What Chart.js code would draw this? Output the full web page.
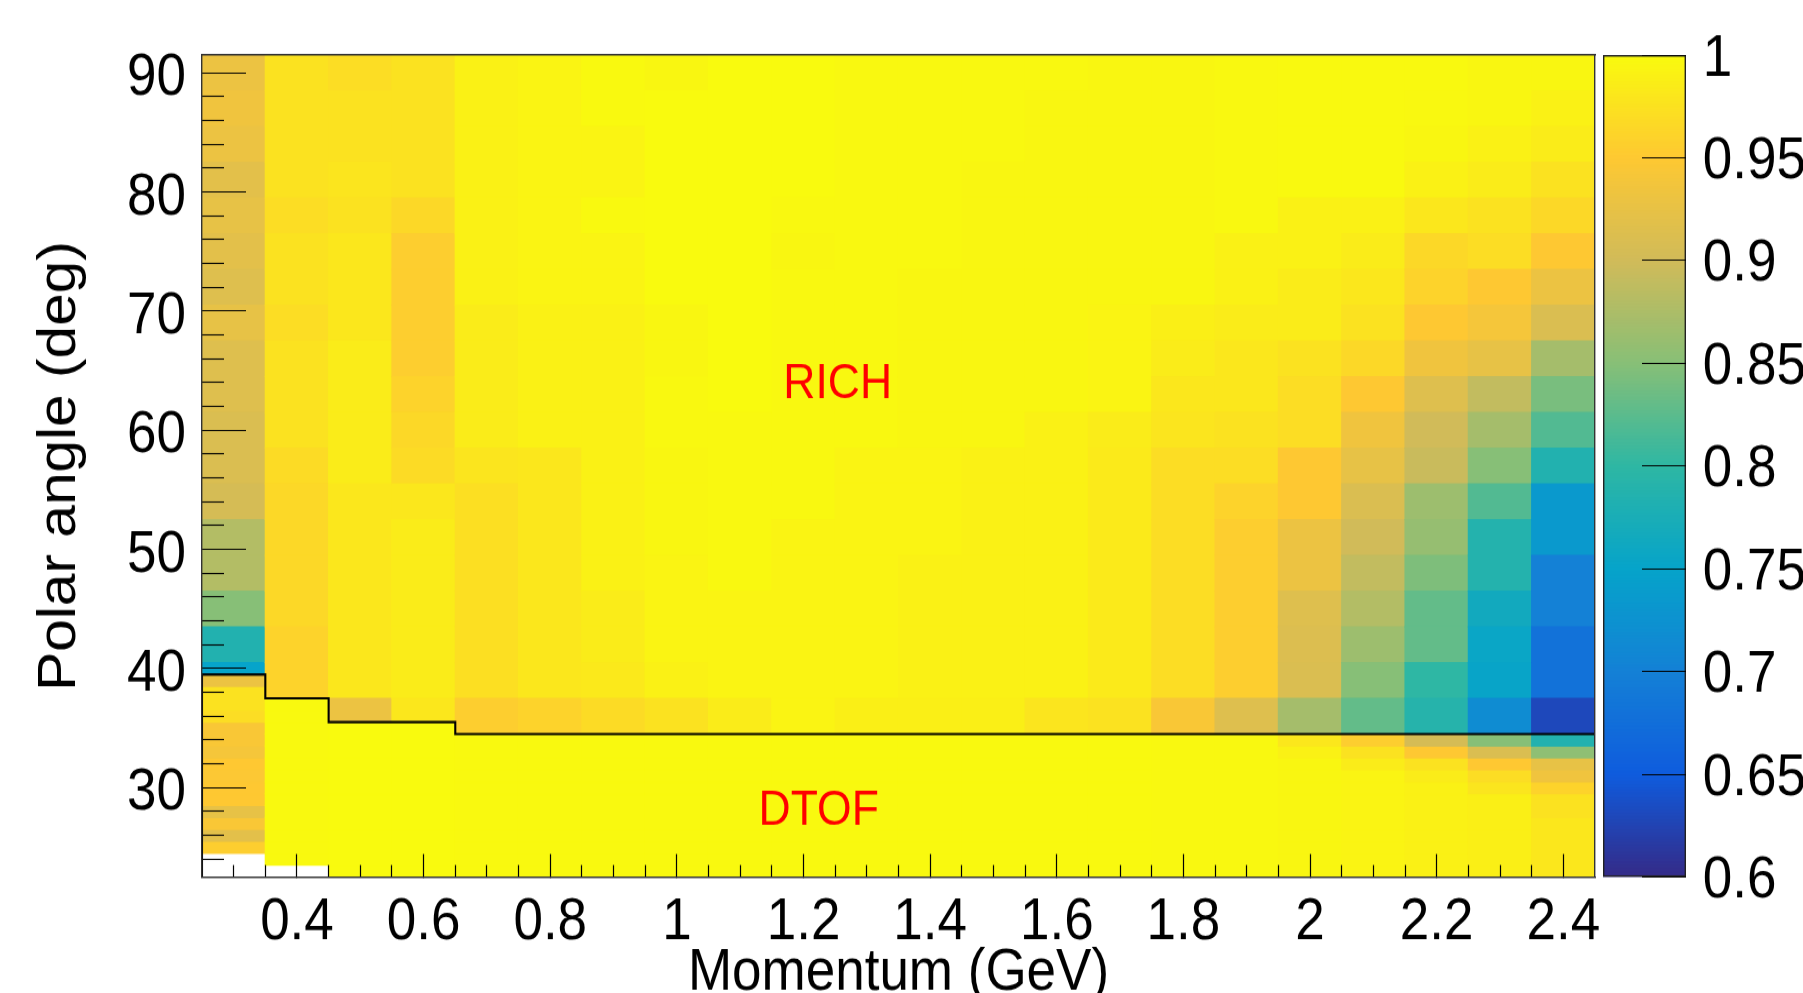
<!DOCTYPE html>
<html>
<head>
<meta charset="utf-8">
<script src="https://cdn.jsdelivr.net/npm/chart.js@4.4.1/dist/chart.umd.min.js"></script>
<style>
html, body { margin: 0; padding: 0; background: #ffffff; overflow: hidden; }
#wrap { position: relative; width: 1803px; height: 993px; }
#main { position: absolute; left: 0; top: 0; width: 1803px; height: 993px; }
#cbar { position: absolute; left: 1595px; top: 0; width: 208px; height: 993px; }
</style>
</head>
<body>
<div id="wrap">
  <canvas id="main" width="1803" height="903" style="width:1803px;height:993px"></canvas>
  <canvas id="cbar" width="208" height="903" style="width:208px;height:993px"></canvas>
</div>
<script>
// ---------------- data ----------------
// momentum bin centres (GeV) and bin edges
const momentum = [0.3, 0.4, 0.5, 0.6, 0.7, 0.8, 0.9, 1.0, 1.1, 1.2, 1.3, 1.4, 1.5, 1.6, 1.7, 1.8, 1.9, 2.0, 2.1, 2.2, 2.3, 2.4];
const momentumEdges = [0.25, 0.35, 0.45, 0.55, 0.65, 0.75, 0.85, 0.95, 1.05, 1.15, 1.25, 1.35, 1.45, 1.55, 1.65, 1.75, 1.85, 1.95, 2.05, 2.15, 2.25, 2.35, 2.45];

// RICH polar-angle bin edges (deg), top to bottom
const richAngleEdges = [91.5, 88.5, 85.5, 82.5, 79.5, 76.5, 73.5, 70.5, 67.5, 64.5, 61.5, 58.5, 55.5, 52.5, 49.5, 46.5, 43.5, 40.5, 37.5, 34.5];
// DTOF polar-angle bin edges (deg), bottom to top
const dtofAngleEdges = [22.5, 23.5, 24.5, 25.5, 26.5, 27.5, 28.5, 29.5, 30.5, 31.5, 32.5, 33.5, 34.5, 35.5, 36.5, 37.5, 38.5, 39.5];

// RICH / DTOF boundary angle for each momentum bin (deg)
const boundary = [39.5, 37.5, 35.5, 35.5, 34.5, 34.5, 34.5, 34.5, 34.5, 34.5, 34.5, 34.5, 34.5, 34.5, 34.5, 34.5, 34.5, 34.5, 34.5, 34.5, 34.5, 34.5];

// RICH efficiency: one array per momentum bin, rows from 88.5-91.5 down to 34.5-37.5
const richEff = [
  [0.93, 0.935, 0.93, 0.92, 0.925, 0.92, 0.915, 0.925, 0.915, 0.915, 0.91, 0.91, 0.905, 0.88, 0.88, 0.85, 0.785, 0.75, null],
  [0.975, 0.975, 0.975, 0.975, 0.97, 0.975, 0.975, 0.97, 0.975, 0.975, 0.975, 0.968, 0.965, 0.965, 0.965, 0.965, 0.96, 0.96, null],
  [0.97, 0.975, 0.975, 0.978, 0.975, 0.98, 0.98, 0.98, 0.985, 0.985, 0.985, 0.985, 0.98, 0.98, 0.98, 0.98, 0.98, 0.98, 0.93],
  [0.975, 0.975, 0.975, 0.975, 0.965, 0.955, 0.955, 0.955, 0.955, 0.96, 0.965, 0.968, 0.98, 0.985, 0.985, 0.985, 0.985, 0.985, 0.98],
  [0.99, 0.99, 0.99, 0.99, 0.99, 0.99, 0.99, 0.985, 0.985, 0.985, 0.985, 0.978, 0.972, 0.972, 0.972, 0.972, 0.972, 0.972, 0.955],
  [0.993, 0.993, 0.993, 0.993, 0.993, 0.993, 0.993, 0.99, 0.99, 0.99, 0.99, 0.98, 0.98, 0.98, 0.98, 0.98, 0.98, 0.98, 0.96],
  [0.998, 0.998, 0.993, 0.993, 0.998, 0.993, 0.993, 0.99, 0.99, 0.99, 0.99, 0.99, 0.99, 0.99, 0.99, 0.985, 0.985, 0.982, 0.968],
  [0.995, 0.999, 0.999, 0.999, 0.999, 0.999, 0.999, 0.995, 0.995, 0.997, 0.997, 0.995, 0.995, 0.995, 0.993, 0.993, 0.993, 0.99, 0.975],
  [0.999, 0.999, 0.999, 0.999, 0.999, 0.999, 0.999, 0.999, 0.999, 0.999, 0.997, 0.997, 0.997, 0.997, 0.997, 0.993, 0.993, 0.993, 0.985],
  [0.999, 0.999, 0.999, 0.999, 0.997, 0.995, 0.997, 0.997, 0.997, 0.997, 0.997, 0.997, 0.997, 0.993, 0.993, 0.993, 0.993, 0.993, 0.993],
  [0.997, 0.997, 0.997, 0.997, 0.997, 0.997, 0.997, 0.997, 0.997, 0.997, 0.997, 0.993, 0.993, 0.993, 0.993, 0.993, 0.993, 0.993, 0.988],
  [0.997, 0.997, 0.997, 0.997, 0.997, 0.997, 0.995, 0.995, 0.995, 0.995, 0.995, 0.993, 0.993, 0.993, 0.99, 0.99, 0.99, 0.99, 0.988],
  [0.997, 0.997, 0.997, 0.995, 0.995, 0.995, 0.995, 0.995, 0.995, 0.995, 0.995, 0.99, 0.99, 0.99, 0.99, 0.99, 0.99, 0.99, 0.988],
  [0.997, 0.995, 0.995, 0.995, 0.995, 0.995, 0.995, 0.995, 0.995, 0.995, 0.99, 0.99, 0.99, 0.99, 0.99, 0.99, 0.99, 0.99, 0.978],
  [0.995, 0.995, 0.995, 0.995, 0.995, 0.995, 0.995, 0.993, 0.993, 0.993, 0.985, 0.983, 0.983, 0.983, 0.983, 0.983, 0.983, 0.983, 0.975],
  [0.995, 0.995, 0.995, 0.995, 0.995, 0.995, 0.995, 0.988, 0.985, 0.98, 0.978, 0.97, 0.97, 0.97, 0.97, 0.97, 0.97, 0.97, 0.945],
  [0.997, 0.997, 0.997, 0.997, 0.997, 0.99, 0.99, 0.985, 0.98, 0.98, 0.975, 0.97, 0.96, 0.955, 0.955, 0.955, 0.955, 0.955, 0.915],
  [0.998, 0.998, 0.998, 0.998, 0.99, 0.99, 0.985, 0.985, 0.975, 0.97, 0.97, 0.95, 0.95, 0.93, 0.93, 0.915, 0.912, 0.91, 0.87],
  [0.998, 0.998, 0.998, 0.998, 0.99, 0.985, 0.98, 0.975, 0.965, 0.95, 0.935, 0.925, 0.91, 0.9, 0.89, 0.88, 0.865, 0.85, 0.83],
  [0.998, 0.997, 0.995, 0.99, 0.98, 0.965, 0.96, 0.95, 0.935, 0.915, 0.9, 0.895, 0.865, 0.86, 0.845, 0.83, 0.83, 0.8, 0.79],
  [0.995, 0.995, 0.99, 0.985, 0.975, 0.97, 0.95, 0.94, 0.925, 0.89, 0.87, 0.85, 0.82, 0.788, 0.788, 0.765, 0.755, 0.752, 0.716],
  [0.995, 0.99, 0.985, 0.975, 0.965, 0.95, 0.93, 0.91, 0.87, 0.842, 0.82, 0.785, 0.735, 0.735, 0.70, 0.70, 0.68, 0.68, 0.63]
];

// DTOF efficiency: one array per momentum bin, rows from 22.5-23.5 up to 38.5-39.5
const dtofEff = [
  [null, null, 0.955, 0.92, 0.945, 0.925, 0.95, 0.95, 0.948, 0.95, 0.94, 0.945, 0.945, 0.97, 0.975, 0.975, 0.93],
  [null, 0.998, 0.998, 0.998, 0.998, 0.998, 0.998, 0.998, 0.998, 0.998, 0.998, 0.998, 0.998, 0.998, 0.998, null, null],
  [0.999, 0.999, 0.999, 0.999, 0.999, 0.999, 0.999, 0.999, 0.999, 0.999, 0.999, 0.999, 0.999, null, null, null, null],
  [0.999, 0.999, 0.999, 0.999, 0.999, 0.999, 0.999, 0.999, 0.999, 0.999, 0.999, 0.999, 0.999, null, null, null, null],
  [0.998, 0.998, 0.998, 0.998, 0.998, 0.998, 0.998, 0.998, 0.998, 0.998, 0.998, 0.998, null, null, null, null, null],
  [0.998, 0.998, 0.998, 0.998, 0.998, 0.998, 0.998, 0.998, 0.998, 0.998, 0.998, 0.998, null, null, null, null, null],
  [0.998, 0.998, 0.998, 0.998, 0.998, 0.998, 0.998, 0.998, 0.998, 0.998, 0.998, 0.998, null, null, null, null, null],
  [0.998, 0.998, 0.998, 0.998, 0.998, 0.998, 0.998, 0.998, 0.998, 0.998, 0.998, 0.998, null, null, null, null, null],
  [0.998, 0.998, 0.998, 0.998, 0.998, 0.998, 0.998, 0.998, 0.998, 0.998, 0.998, 0.998, null, null, null, null, null],
  [0.998, 0.998, 0.998, 0.998, 0.998, 0.998, 0.998, 0.998, 0.998, 0.998, 0.998, 0.998, null, null, null, null, null],
  [0.998, 0.998, 0.998, 0.998, 0.998, 0.998, 0.998, 0.998, 0.998, 0.998, 0.998, 0.998, null, null, null, null, null],
  [0.998, 0.998, 0.998, 0.998, 0.998, 0.998, 0.998, 0.998, 0.998, 0.998, 0.998, 0.998, null, null, null, null, null],
  [0.998, 0.998, 0.998, 0.998, 0.998, 0.998, 0.998, 0.998, 0.998, 0.998, 0.998, 0.998, null, null, null, null, null],
  [0.998, 0.998, 0.998, 0.998, 0.998, 0.998, 0.998, 0.998, 0.998, 0.998, 0.998, 0.998, null, null, null, null, null],
  [0.998, 0.998, 0.998, 0.998, 0.998, 0.998, 0.998, 0.998, 0.998, 0.998, 0.998, 0.998, null, null, null, null, null],
  [0.997, 0.997, 0.997, 0.997, 0.997, 0.997, 0.997, 0.997, 0.997, 0.997, 0.997, 0.997, null, null, null, null, null],
  [0.997, 0.997, 0.997, 0.997, 0.997, 0.997, 0.997, 0.997, 0.997, 0.997, 0.997, 0.997, null, null, null, null, null],
  [0.995, 0.995, 0.995, 0.995, 0.995, 0.995, 0.995, 0.995, 0.995, 0.995, 0.99, 0.98, null, null, null, null, null],
  [0.993, 0.993, 0.993, 0.993, 0.993, 0.993, 0.993, 0.993, 0.993, 0.985, 0.975, 0.955, null, null, null, null, null],
  [0.99, 0.99, 0.99, 0.99, 0.99, 0.99, 0.99, 0.99, 0.985, 0.975, 0.95, 0.905, null, null, null, null, null],
  [0.988, 0.988, 0.988, 0.988, 0.988, 0.988, 0.988, 0.978, 0.97, 0.95, 0.91, 0.85, null, null, null, null, null],
  [0.98, 0.98, 0.98, 0.98, 0.98, 0.975, 0.975, 0.96, 0.935, 0.925, 0.855, 0.785, null, null, null, null, null]
];

// tick values and labels
const xTickValues = [0.4, 0.6, 0.8, 1.0, 1.2, 1.4, 1.6, 1.8, 2.0, 2.2, 2.4];
const xTickLabels = ['0.4', '0.6', '0.8', '1', '1.2', '1.4', '1.6', '1.8', '2', '2.2', '2.4'];
const yTickValues = [30, 40, 50, 60, 70, 80, 90];
const yTickLabels = ['30', '40', '50', '60', '70', '80', '90'];
const zTickValues = [0.6, 0.65, 0.7, 0.75, 0.8, 0.85, 0.9, 0.95, 1.0];
const zTickLabels = ['0.6', '0.65', '0.7', '0.75', '0.8', '0.85', '0.9', '0.95', '1'];

// region labels (text, data coordinates)
const regionLabels = [
  { text: 'RICH', x: 1.254, y: 63.8 },
  { text: 'DTOF', x: 1.224, y: 28.05 }
];

// ---------------- configuration ----------------
const X_MIN = 0.25, X_MAX = 2.45, Y_MIN = 22.5, Y_MAX = 91.5, Z_MIN = 0.6, Z_MAX = 1.0;
const FONT = "'Liberation Sans', Arial, Helvetica, sans-serif";
const tickFont = { family: FONT, size: 53, lineHeight: 1 };

// ROOT kBird palette
const birdStops = [0.0, 0.125, 0.25, 0.375, 0.5, 0.625, 0.75, 0.875, 1.0];
const birdR = [0.2082, 0.0592, 0.0780, 0.0232, 0.1802, 0.5301, 0.8186, 0.9956, 0.9764];
const birdG = [0.1664, 0.3599, 0.5041, 0.6419, 0.7178, 0.7492, 0.7328, 0.7862, 0.9832];
const birdB = [0.5293, 0.8684, 0.8385, 0.7914, 0.6425, 0.4662, 0.3499, 0.1968, 0.0539];
function bird(v) {
  let t = (v - Z_MIN) / (Z_MAX - Z_MIN);
  t = Math.min(1, Math.max(0, t));
  let i = 0;
  while (i < birdStops.length - 2 && t > birdStops[i + 1]) i++;
  const f = (t - birdStops[i]) / (birdStops[i + 1] - birdStops[i]);
  const c = k => Math.round(255 * (k[i] + f * (k[i + 1] - k[i])));
  return 'rgb(' + c(birdR) + ',' + c(birdG) + ',' + c(birdB) + ')';
}

// cells built from the arrays
const richCells = [];
const dtofCells = [];
momentum.forEach((p, c) => {
  richEff[c].forEach((v, r) => {
    if (v === null) return;
    const hi = richAngleEdges[r];
    const lo = Math.max(richAngleEdges[r + 1], boundary[c]);
    if (lo >= hi) return;
    richCells.push({ x: p, y: [lo, hi], v: v });
  });
  dtofEff[c].forEach((v, r) => {
    if (v === null) return;
    const lo = dtofAngleEdges[r];
    const hi = Math.min(dtofAngleEdges[r + 1], boundary[c]);
    if (lo >= hi) return;
    dtofCells.push({ x: p, y: [lo, hi], v: v });
  });
});

// boundary step line
const boundaryLine = [{ x: momentumEdges[0], y: Y_MIN }];
boundary.forEach((b, c) => boundaryLine.push({ x: momentumEdges[c], y: b }));
boundaryLine.push({ x: momentumEdges[momentumEdges.length - 1], y: boundary[boundary.length - 1] });

// minor tick positions (axis decoration)
const xMinorTicks = [];
for (let k = 6; k <= 48; k++) { if (k % 4 !== 0) xMinorTicks.push(Math.round(k * 5) / 100); }
const yMinorTicks = [];
for (let a = 24; a <= 90; a += 2) { if (a % 10 !== 0) yMinorTicks.push(a); }

const cellStyle = {
  backgroundColor: ctx => (ctx.raw && ctx.raw.v !== undefined) ? bird(ctx.raw.v) : '#000',
  borderWidth: 0,
  barPercentage: 1,
  categoryPercentage: 1,
  grouped: false,
  inflateAmount: 0.6
};

const labelPlugin = {
  id: 'regionLabels',
  afterDatasetsDraw(chart) {
    const { ctx } = chart;
    const xs = chart.scales.x, ys = chart.scales.y;
    ctx.save();
    ctx.font = '44.5px ' + FONT;
    ctx.fillStyle = '#ff0000';
    ctx.textAlign = 'center';
    ctx.textBaseline = 'middle';
    regionLabels.forEach(l => ctx.fillText(l.text, xs.getPixelForValue(l.x), ys.getPixelForValue(l.y)));
    ctx.restore();
  }
};

const frameBorder = { display: true, color: '#333333', width: 1.4, z: 1 };

new Chart(document.getElementById('main'), {
  type: 'bar',
  data: {
    datasets: [
      { type: 'line', label: 'boundary', data: boundaryLine, xAxisID: 'x', yAxisID: 'y',
        borderColor: '#000000', borderWidth: 2.1, pointRadius: 0, stepped: 'before', fill: false, tension: 0, order: 0 },
      Object.assign({ label: 'RICH', data: richCells, xAxisID: 'x', yAxisID: 'y', order: 1 }, cellStyle),
      Object.assign({ label: 'DTOF', data: dtofCells, xAxisID: 'x', yAxisID: 'y', order: 2 }, cellStyle)
    ]
  },
  options: {
    responsive: false,
    animation: false,
    devicePixelRatio: 1,
    events: [],
    layout: { padding: { left: 0, top: 50, right: 208, bottom: 0 } },
    plugins: { legend: { display: false }, tooltip: { enabled: false }, title: { display: false } },
    scales: {
      xMinor: {
        type: 'linear', axis: 'x', position: 'bottom', weight: 0, min: X_MIN, max: X_MAX, offset: false,
        afterBuildTicks: s => { s.ticks = xMinorTicks.map(v => ({ value: v })); },
        afterFit: s => { s.height = 0; s.paddingLeft = 0; s.paddingRight = 0; },
        ticks: { display: false },
        grid: { display: true, drawOnChartArea: false, drawTicks: true, tickLength: -10.9, tickWidth: 1.2, tickColor: '#000000', offset: false, z: 1 },
        border: { display: false }
      },
      yMinor: {
        type: 'linear', axis: 'y', position: 'left', weight: 0, min: Y_MIN, max: Y_MAX,
        afterBuildTicks: s => { s.ticks = yMinorTicks.map(v => ({ value: v })); },
        afterFit: s => { s.width = 0; s.paddingTop = 0; s.paddingBottom = 0; },
        ticks: { display: false },
        grid: { display: true, drawOnChartArea: false, drawTicks: true, tickLength: -22, tickWidth: 1.1, tickColor: '#000000', z: 1 },
        border: { display: false }
      },
      x: {
        type: 'linear', axis: 'x', position: 'bottom', weight: 1, min: X_MIN, max: X_MAX, offset: false,
        afterBuildTicks: s => { s.ticks = xTickValues.map(v => ({ value: v })); },
        afterFit: s => { s.height = 105.5; s.paddingLeft = 0; s.paddingRight = 0; },
        ticks: {
          font: tickFont, color: '#000000', padding: 36, maxRotation: 0, minRotation: 0, autoSkip: false,
          callback: v => xTickLabels[xTickValues.indexOf(v)]
        },
        grid: { display: true, drawOnChartArea: false, drawTicks: true, tickLength: -20.9, tickWidth: 1.2, tickColor: '#000000', offset: false, z: 1 },
        border: frameBorder,
        title: { display: true, text: 'Momentum (GeV)', color: '#000000', font: { family: FONT, size: 53, lineHeight: 1 }, padding: { top: 0, bottom: -8.8 } }
      },
      y: {
        type: 'linear', axis: 'y', position: 'left', weight: 1, min: Y_MIN, max: Y_MAX,
        afterBuildTicks: s => { s.ticks = yTickValues.map(v => ({ value: v })); },
        afterFit: s => { s.width = 202; s.paddingTop = 0; s.paddingBottom = 0; },
        ticks: {
          font: tickFont, color: '#000000', padding: 60, labelOffset: 5.5, autoSkip: false,
          callback: v => yTickLabels[yTickValues.indexOf(v)]
        },
        grid: { display: true, drawOnChartArea: false, drawTicks: true, tickLength: -44, tickWidth: 1.1, tickColor: '#000000', z: 1 },
        border: frameBorder,
        title: { display: true, text: 'Polar angle (deg)', color: '#000000', font: { family: FONT, size: 53.3, lineHeight: 1 }, padding: { top: 33.3, bottom: 0 } }
      },
      xTop: {
        type: 'linear', axis: 'x', position: 'top', min: X_MIN, max: X_MAX,
        afterFit: s => { s.height = 0; },
        ticks: { display: false },
        grid: { display: true, drawOnChartArea: false, drawTicks: false },
        border: frameBorder
      },
      yRight: {
        type: 'linear', axis: 'y', position: 'right', min: Y_MIN, max: Y_MAX,
        afterFit: s => { s.width = 0; },
        ticks: { display: false },
        grid: { display: true, drawOnChartArea: false, drawTicks: false },
        border: frameBorder
      }
    }
  },
  plugins: [labelPlugin]
});

// ---------------- colour bar ----------------
const paletteSteps = [];
const N_STEPS = 255;
for (let i = 0; i < N_STEPS; i++) {
  const lo = Z_MIN + (Z_MAX - Z_MIN) * i / N_STEPS;
  const hi = Z_MIN + (Z_MAX - Z_MIN) * (i + 1) / N_STEPS;
  paletteSteps.push({ x: 'z', y: [lo, hi], v: (lo + hi) / 2 });
}

new Chart(document.getElementById('cbar'), {
  type: 'bar',
  data: {
    labels: ['z'],
    datasets: [
      { label: 'frame', data: [{ x: 'z', y: [Z_MIN, Z_MAX] }], backgroundColor: 'rgba(0,0,0,0)', borderColor: '#222222',
        borderWidth: 1.4, borderSkipped: false, inflateAmount: 0, barPercentage: 1, categoryPercentage: 1, grouped: false, order: 0 },
      { label: 'palette', data: paletteSteps, backgroundColor: ctx => (ctx.raw && ctx.raw.v !== undefined) ? bird(ctx.raw.v) : '#000',
        borderWidth: 0, inflateAmount: 0.5, barPercentage: 1, categoryPercentage: 1, grouped: false, order: 1 }
    ]
  },
  options: {
    responsive: false,
    animation: false,
    devicePixelRatio: 1,
    events: [],
    layout: { padding: { left: 8, top: 50, right: 0, bottom: 105.5 } },
    plugins: { legend: { display: false }, tooltip: { enabled: false } },
    scales: {
      x: { type: 'category', display: false, offset: true },
      y: {
        type: 'linear', position: 'right', min: Z_MIN, max: Z_MAX,
        afterBuildTicks: s => { s.ticks = zTickValues.map(v => ({ value: v })); },
        afterFit: s => { s.width = 117; s.paddingTop = 0; s.paddingBottom = 0; },
        ticks: { font: tickFont, color: '#000000', padding: 60.7, labelOffset: 4, autoSkip: false,
          callback: v => zTickLabels[zTickValues.indexOf(v)] },
        grid: { display: true, drawOnChartArea: false, drawTicks: true, tickLength: -44, tickWidth: 1.1, tickColor: '#000000', z: 1 },
        border: { display: false }
      }
    }
  }
});
</script>
</body>
</html>
